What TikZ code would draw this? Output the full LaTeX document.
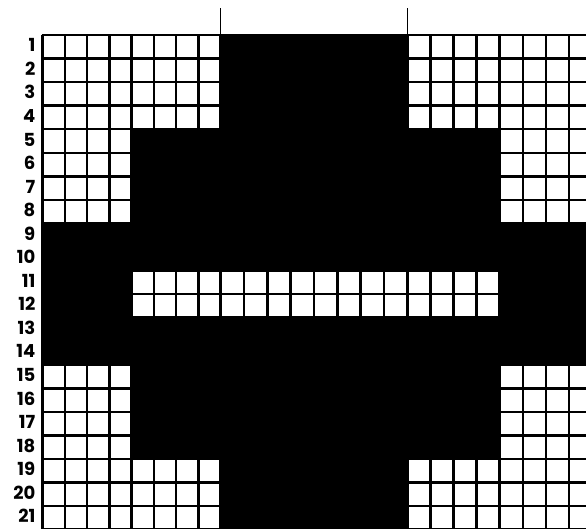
\documentclass[tikz,border=0pt]{standalone}
\usepackage{fontspec}
\newfontfamily\labfont{Poppins}
\begin{document}
\begin{tikzpicture}[x=1pt,y=-1pt,
  gridline/.style={line width=2.5pt,black},
  blk/.style={fill=black,draw=none},
  rowlab/.style={anchor=east,inner sep=0pt,text height=12.5pt,text depth=0pt,font=\labfont\bfseries\fontsize{18}{18}\selectfont}]
\useasboundingbox (0,0) rectangle (586,528);
\clip (0,0) rectangle (586,528);
% black regions
\fill[blk] (220.7,35) rectangle (407.3,129.2);
\fill[blk] (131.7,129.2) rectangle (499.7,223.4);
\fill[blk] (42.7,223.4) rectangle (592,270.5);
\fill[blk] (42.7,270.5) rectangle (131.7,317.6);
\fill[blk] (499.7,270.5) rectangle (592,317.6);
\fill[blk] (42.7,317.6) rectangle (592,364.7);
\fill[blk] (131.7,364.7) rectangle (499.7,458.9);
\fill[blk] (220.7,458.9) rectangle (407.3,540);
% grid lines
\foreach \x in {42.7,65,87.2,109.5,131.7,154,176.2,198.5,220.7,244,267.3,290.7,314,337.3,360.6,384,407.3,430.4,453.5,476.6,499.7,522.8,545.9,569,592.1}
  \draw[gridline] (\x,35) -- (\x,540);
\foreach \i in {0,...,21}
  \draw[gridline] (41.5,35+\i*23.55) -- (595,35+\i*23.55);
% top ticks
\coordinate (tl) at (220.7,8);
\coordinate (tr) at (407.3,8);
\coordinate (bl) at (220.7,35);
\coordinate (br) at (407.3,35);
\draw[line width=1.5pt] (tl) -- (bl);
\draw[line width=1.5pt] (tr) -- (br);
% row labels
\foreach \i in {1,...,21}
  \node[rowlab] (r\i) at (35.5,35+\i*23.55-13) {\i};
\end{tikzpicture}
\end{document}
